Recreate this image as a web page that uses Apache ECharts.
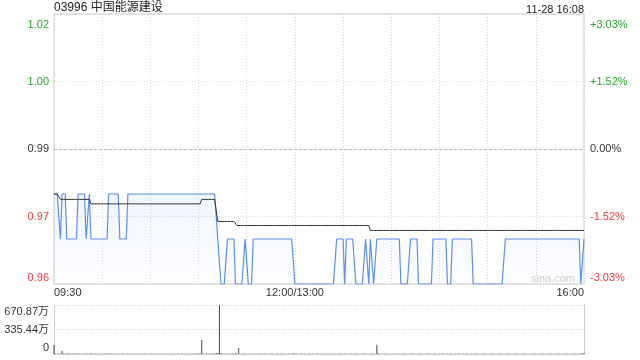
<!DOCTYPE html>
<html>
<head>
<meta charset="utf-8">
<script src="https://cdn.jsdelivr.net/npm/echarts@6/dist/echarts.min.js"></script>
<style>
html,body{margin:0;padding:0;background:#fff;}
#chart{width:640px;height:360px;}
</style>
</head>
<body>
<div id="chart"></div>
<script>
// ---- data ----
const titleText = '03996 中国能源建设';
const timeText = '11-28 16:08';
const timeLabels = ['09:30', '12:00/13:00', '16:00'];
const timeLabelMinutes = [0, 150, 330];
const priceTickLabels = ['0.96', '0.97', '0.99', '1.00', '1.02'];
const pctTickLabels = ['-3.03%', '-1.52%', '0.00%', '+1.52%', '+3.03%'];
const volTickLabels = ['0', '335.44万', '670.87万'];
const prevClose = 0.99;
const priceMin = 0.96, priceMax = 1.02, priceStep = 0.015;
const volMax = 670.87; // 万

// price per minute, as [price, number of minutes]
const priceRuns = [[0.98,4],[0.97,1],[0.98,3],[0.97,7],[0.98,5],[0.97,2],[0.98,1],[0.97,11],[0.98,7],[0.97,5],[0.98,56],
  [0.97,2],[0.96,4],[0.97,5],[0.96,6],[0.97,2],[0.96,3],[0.97,26],[0.96,26],[0.97,5],[0.96,1],[0.97,6],[0.96,6],
  [0.97,2],[0.96,1],[0.97,2],[0.96,2],[0.97,15],[0.96,6],[0.97,5],[0.96,9],[0.97,9],[0.96,3],[0.97,13],[0.96,20],
  [0.97,47],[0.96,2],[0.97,1]];
// average price per minute, as [price, number of minutes]
const avgRuns = [[0.98,4],[0.9788,19],[0.9778,69],[0.9788,10],[0.9739,12],[0.9730,83],[0.9719,134]];
// volume per minute (万股)
const volumes = [
  125,6,4,8,5,45,7,3,6,9,4,5,8,3,6,4,7,5,3,8,6,4,5,9,3,6,4,5,7,4,
  5,3,6,8,4,7,5,3,6,4,8,5,3,6,4,5,7,3,4,6,5,8,3,4,6,5,3,7,4,5,
  4,6,3,5,7,4,3,6,5,4,8,3,5,4,6,3,5,7,4,3,6,5,4,3,7,5,4,6,3,8,
  6,9,190,5,4,7,3,5,6,4,8,12,15,670.87,10,6,5,8,4,6,5,7,4,9,6,82,5,4,6,3,
  5,4,6,3,7,5,4,3,6,5,4,7,3,5,4,6,3,5,4,8,3,5,6,4,3,5,4,6,3,9,
  8,4,5,3,6,4,3,5,4,6,3,5,4,3,6,5,4,3,5,4,6,3,5,4,3,6,5,4,7,5,
  4,6,3,5,4,7,3,5,6,4,3,5,4,6,3,5,4,3,6,5,4,125,6,4,5,3,6,4,5,3,
  4,6,5,3,7,4,5,3,6,4,5,3,4,6,5,4,3,5,6,4,3,5,4,6,3,5,4,7,3,5,
  4,3,6,5,4,3,5,6,4,3,5,4,6,3,5,4,3,6,5,4,3,5,4,6,3,5,4,3,6,5,
  4,5,3,6,4,5,3,4,6,5,3,4,5,6,3,4,5,3,6,4,5,3,4,6,5,3,4,5,3,6,
  4,5,3,4,6,5,3,4,5,6,3,4,5,3,6,4,5,3,4,6,5,4,3,5,6,4,7,5,8,9,
  12
];

// ---- build ----
function expand(runs){const out=[];runs.forEach(([v,n])=>{for(let k=0;k<n;k++)out.push(v);});return out;}
const prices = expand(priceRuns);
const avgs = expand(avgRuns);
const priceData = prices.map((v,i)=>[i,v]);
const avgData = avgs.map((v,i)=>[i,v]);
const volData = volumes.map((v,i)=>[i,Math.round(v*10000)]);

const FONT = '"Liberation Sans", Arial, "Noto Sans CJK SC", sans-serif';
const GREEN = '#27a327', RED = '#f23a3a', DARK = '#333';
const labelColors = [RED, RED, DARK, GREEN, GREEN];
function richFor(){
  const r = {};
  for (let k=0;k<5;k++){
    r['c'+k] = {color: labelColors[k], fontSize: 11, fontFamily: FONT};
  }
  r.c0.padding = [0,0,13,0];
  r.c4.padding = [22,0,0,0];
  return r;
}
function priceIdx(v){return Math.round((v-priceMin)/priceStep);}

const chart = echarts.init(document.getElementById('chart'), null, {renderer:'canvas'});
chart.setOption({
  animation: false,
  backgroundColor: '#fff',
  title: [
    {text: titleText, left: 54, top: 2, padding: 0,
     textStyle: {fontSize: 12, fontWeight: 'normal', color: '#222', fontFamily: FONT}},
    {text: timeText, right: 56, top: 4, padding: 0,
     textStyle: {fontSize: 11, fontWeight: 'normal', color: '#222', fontFamily: FONT}}
  ],
  graphic: [
    {type: 'text', left: 531, top: 273, silent: true,
     style: {text: 'sina.com', fill: '#cfcfcf', font: '11px ' + FONT}}
  ],
  grid: [
    {left: 54, right: 56, top: 14, height: 270, show: true, borderColor: '#ccc', borderWidth: 1},
    {left: 54, right: 56, top: 305, height: 49, show: false}
  ],
  xAxis: [
    {type: 'value', gridIndex: 0, min: 0, max: 330, interval: 30,
     axisLine: {show: false}, axisTick: {show: false},
     splitLine: {show: true, lineStyle: {color: '#d6d6d6', type: [1,2], width: 1}},
     axisLabel: {show: true, margin: 3, color: DARK, fontSize: 11, fontFamily: FONT,
       showMinLabel: true, showMaxLabel: true, alignMinLabel: 'left', alignMaxLabel: 'right',
       formatter: v => {const k = timeLabelMinutes.indexOf(Math.round(v)); return k>=0 ? timeLabels[k] : '';}}},
    {type: 'value', gridIndex: 1, min: 0, max: 330, interval: 30,
     axisLine: {show: true, lineStyle: {color: '#ccc'}}, axisTick: {show: false},
     axisLabel: {show: false}, splitLine: {show: false}}
  ],
  yAxis: [
    {type: 'value', gridIndex: 0, position: 'left', min: priceMin, max: priceMax, interval: priceStep,
     axisLine: {show: false}, axisTick: {show: false},
     splitLine: {show: true, lineStyle: {color: '#d6d6d6', type: [1,2]}},
     axisLabel: {margin: 5, fontSize: 11, fontFamily: FONT, rich: richFor(),
       formatter: v => {const k = priceIdx(v); return '{c'+k+'|'+priceTickLabels[k]+'}';}}},
    {type: 'value', gridIndex: 0, position: 'right', min: priceMin, max: priceMax, interval: priceStep,
     axisLine: {show: false}, axisTick: {show: false}, splitLine: {show: false},
     axisLabel: {margin: 6, fontSize: 11, fontFamily: FONT, rich: richFor(),
       formatter: v => {const k = priceIdx(v); return '{c'+k+'|'+pctTickLabels[k]+'}';}}},
    {type: 'value', gridIndex: 1, position: 'left', min: 0, max: Math.round(volMax*10000), interval: Math.round(volMax*10000)/2,
     axisLine: {show: true, lineStyle: {color: '#ccc'}}, axisTick: {show: false},
     splitLine: {show: true, lineStyle: {color: '#d0d0d0', type: [1,2]}},
     axisLabel: {margin: 5, fontSize: 11, fontFamily: FONT, color: DARK,
       rich: {t: {padding: [13,0,0,0], fontSize: 11, fontFamily: FONT, color: DARK},
              m: {fontSize: 11, fontFamily: FONT, color: DARK},
              b: {padding: [0,0,12,0], fontSize: 11, fontFamily: FONT, color: DARK}},
       formatter: (v, i) => {const k = Math.round(v/(volMax*10000/2)); const s = ['b','m','t'][k]; return '{'+s+'|'+volTickLabels[k]+'}';}}},
    {type: 'value', gridIndex: 1, position: 'right', min: 0, max: Math.round(volMax*10000),
     axisLine: {show: true, lineStyle: {color: '#ccc'}}, axisTick: {show: false},
     axisLabel: {show: false}, splitLine: {show: false}}
  ],
  series: [
    {type: 'line', xAxisIndex: 0, yAxisIndex: 0, data: priceData, showSymbol: false, symbol: 'none',
     lineStyle: {color: '#5b8fee', width: 1.2},
     areaStyle: {color: new echarts.graphic.LinearGradient(0,0,0,1,[
       {offset: 0, color: 'rgba(91,143,238,0.12)'}, {offset: 1, color: 'rgba(91,143,238,0.02)'}])},
     z: 3},
    {type: 'line', xAxisIndex: 0, yAxisIndex: 0, data: avgData, showSymbol: false, symbol: 'none',
     lineStyle: {color: '#333', width: 1}, z: 4,
     markLine: {silent: true, symbol: 'none', label: {show: false},
       lineStyle: {color: '#bbb', type: [3,2], width: 1}, data: [{yAxis: prevClose}]}},
    {type: 'bar', xAxisIndex: 1, yAxisIndex: 2, data: volData, barWidth: 1,
     itemStyle: {color: '#444'}}
  ]
});
</script>
</body>
</html>
